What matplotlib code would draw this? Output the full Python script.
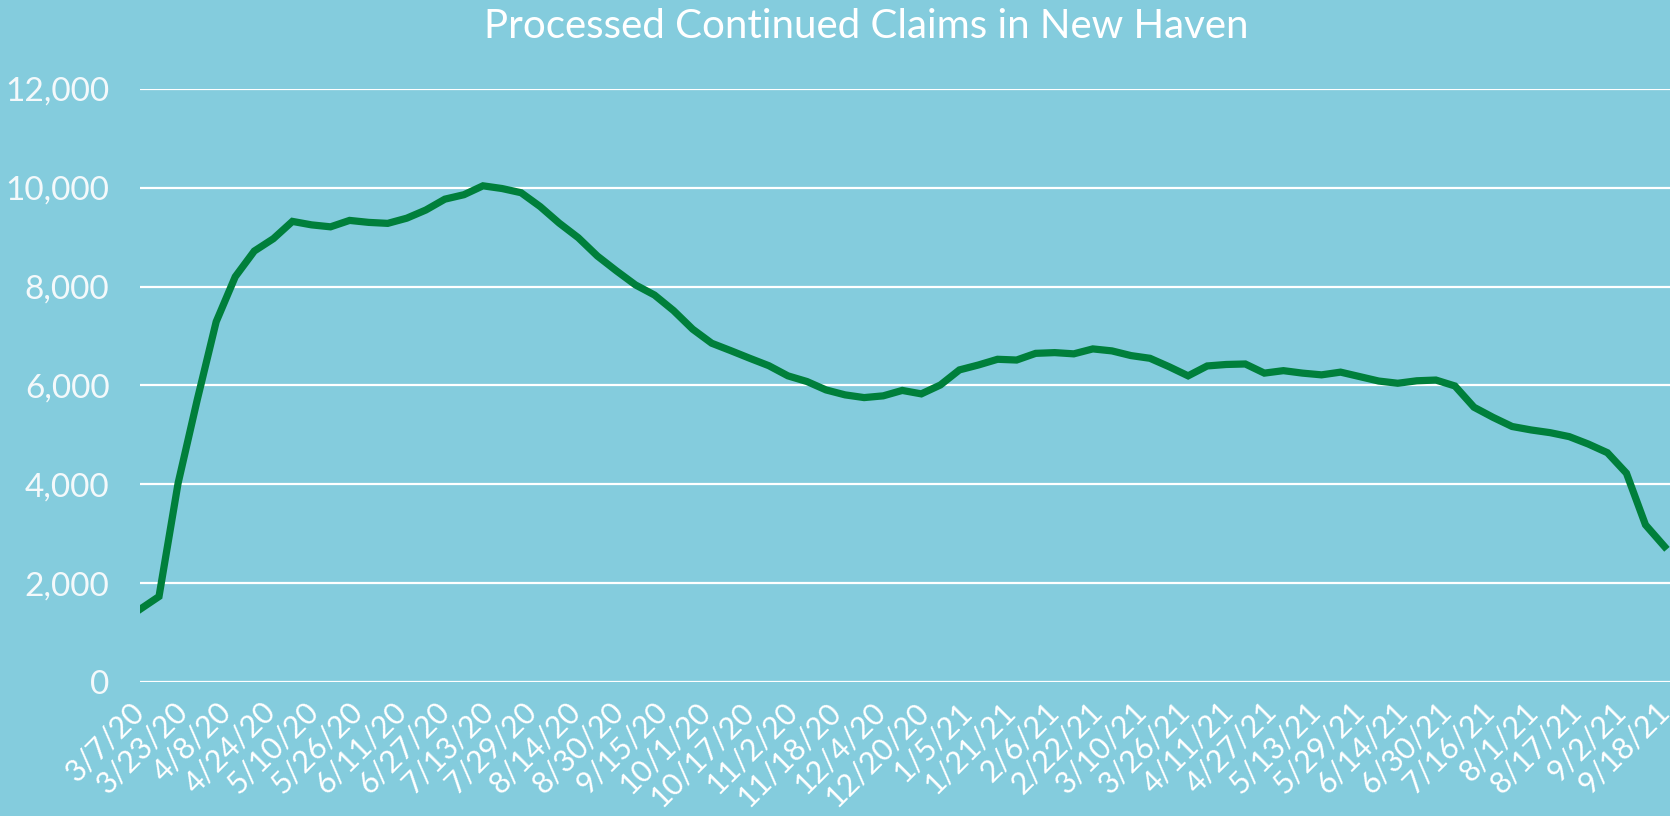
import pandas as pd
import numpy as np
import matplotlib
matplotlib.use('Agg')
import matplotlib.pyplot as plt
import matplotlib.dates as mdates
from matplotlib.ticker import FuncFormatter

# weekly processed continued claims, first week ending 3/7/20
start_date = '2020-03-07'
claims = [1470, 1730, 4020, 5700, 7290, 8200, 8720, 8970, 9320, 9250,
          9210, 9340, 9300, 9280, 9385, 9550, 9770, 9860, 10040, 9985,
          9900, 9620, 9285, 8990, 8620, 8320, 8035, 7830, 7515, 7140,
          6855, 6705, 6550, 6400, 6195, 6080, 5910, 5810, 5755, 5790,
          5900, 5830, 6010, 6315, 6415, 6530, 6515, 6650, 6665, 6640,
          6740, 6700, 6605, 6550, 6380, 6195, 6395, 6425, 6435, 6250,
          6300, 6250, 6215, 6270, 6180, 6090, 6045, 6095, 6110, 5990,
          5560, 5355, 5170, 5100, 5045, 4965, 4815, 4640, 4225, 3180,
          2740]

tick_labels = ['3/7/20', '3/23/20', '4/8/20', '4/24/20', '5/10/20', '5/26/20',
               '6/11/20', '6/27/20', '7/13/20', '7/29/20', '8/14/20', '8/30/20',
               '9/15/20', '10/1/20', '10/17/20', '11/2/20', '11/18/20', '12/4/20',
               '12/20/20', '1/5/21', '1/21/21', '2/6/21', '2/22/21', '3/10/21',
               '3/26/21', '4/11/21', '4/27/21', '5/13/21', '5/29/21', '6/14/21',
               '6/30/21', '7/16/21', '8/1/21', '8/17/21', '9/2/21', '9/18/21']

y_ticks = [0, 2000, 4000, 6000, 8000, 10000, 12000]

BG = '#84CCDD'
GREEN = '#007F3B'
FONT = ['Lato', 'DejaVu Sans']

dates = pd.date_range(start_date, periods=len(claims), freq='7D')
tick_dates = pd.to_datetime(tick_labels, format='%m/%d/%y')

fig = plt.figure(figsize=(16.7, 8.16), dpi=100, facecolor=BG)
ax = fig.add_axes([0.0838, 0.1642, 0.9162, 0.7268])
ax.set_facecolor(BG)

ax.plot(dates, claims, color=GREEN, lw=5.2, solid_joinstyle='miter', zorder=3)

ax.set_ylim(0, 12000)
ax.set_yticks(y_ticks)
ax.yaxis.set_major_formatter(FuncFormatter(lambda v, p: f'{int(v):,}'))
ax.grid(axis='y', color='white', lw=1.6, zorder=1)
ax.set_axisbelow(True)

ax.set_xlim(dates[0], dates[0] + pd.Timedelta(days=562))
ax.set_xticks(tick_dates)
ax.set_xticklabels(tick_labels)

for s in ax.spines.values():
    s.set_visible(False)

ax.tick_params(axis='both', length=0, colors='white')
ax.tick_params(axis='y', pad=22)
ax.tick_params(axis='x', pad=18)
for lab in ax.get_yticklabels():
    lab.set_fontsize(24)
    lab.set_family(FONT)
    lab.set_color('#F4F9FB')
for lab in ax.get_xticklabels():
    lab.set_fontsize(22)
    lab.set_family(FONT)
    lab.set_rotation(45)
    lab.set_ha('right')
    lab.set_va('center')
    lab.set_rotation_mode('anchor')

fig.text(0.5186, 0.99, 'Processed Continued Claims in New Haven', ha='center', va='top',
         fontsize=29, color='white', family=FONT)

fig.savefig('out.png', dpi=100, facecolor=BG)
